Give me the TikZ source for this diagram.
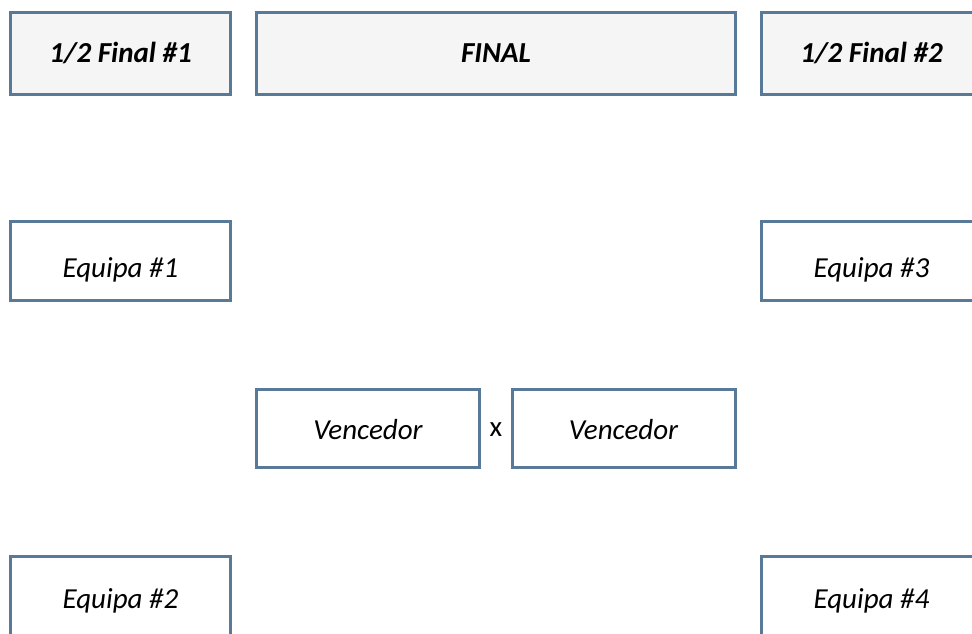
\documentclass[tikz,border=0pt]{standalone}
\usepackage{fontspec}
\setmainfont{Carlito}
\definecolor{boxline}{RGB}{88,121,152}
\definecolor{headfill}{RGB}{245,245,245}

\begin{document}
\begin{tikzpicture}[x=1pt, y=-1pt, line width=3pt]
    \tikzstyle{box}=[draw=boxline, rectangle, inner sep=0pt, text depth=0pt, font=\fontsize{29}{34}\selectfont\itshape]
    \tikzstyle{head}=[box, fill=headfill, minimum width=220pt, minimum height=82pt, text height=18.6pt, font=\fontsize{29}{34}\selectfont\bfseries\itshape]
    \tikzstyle{team}=[box, minimum width=220pt, minimum height=79pt, text height=32.6pt]
    \tikzstyle{winner}=[box, minimum width=223pt, minimum height=78pt, text height=22.6pt]

    \useasboundingbox (0,0) rectangle (972,633);
    \clip (0,0) rectangle (972,633);

    % header row
    \node[head] (semi1) at (120.5,53.5) {1/2 Final \#1};
    \node[head, minimum width=479pt] (final) at (496,53.5) {FINAL};
    \node[head] (semi2) at (871.5,53.5) {1/2 Final \#2};

    % teams
    \node[team] (team1) at (120.5,261) {Equipa \#1};
    \node[team] (team3) at (871.5,261) {Equipa \#3};
    \node[team, text height=24.6pt] (team2) at (120.5,596) {Equipa \#2};
    \node[team, text height=24.6pt] (team4) at (871.5,596) {Equipa \#4};

    % final match
    \node[winner] (win1) at (368,428.5) {Vencedor};
    \node[winner] (win2) at (623.5,428.5) {Vencedor};
    \node[font=\fontsize{29}{34}\selectfont] (versus) at (496,430) {x};
\end{tikzpicture}
\end{document}
